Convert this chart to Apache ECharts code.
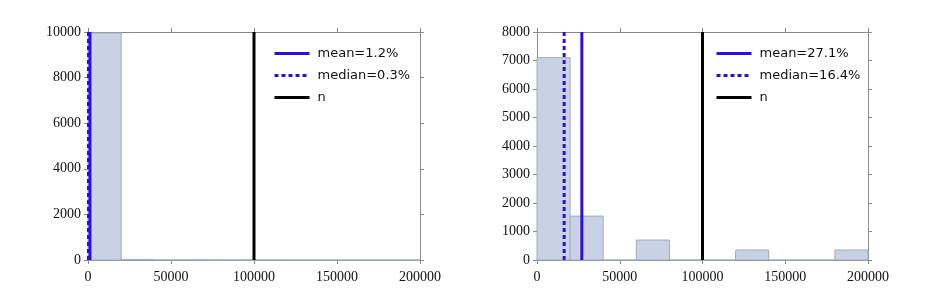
<!DOCTYPE html>
<html><head><meta charset="utf-8">
<script src="https://cdn.jsdelivr.net/npm/echarts@6/dist/echarts.min.js"></script>
<style>html,body{margin:0;padding:0;background:#fff}#c{width:930px;height:304px}</style>
</head><body><div id="c"></div>
<script>
// Histogram bin edges (shared)
const binEdges = [0,20000,40000,60000,80000,100000,120000,140000,160000,180000,200000];
// Left panel counts per bin
const leftCounts = [9960,25,8,4,2,1,0,0,0,0];
// Right panel counts per bin
const rightCounts = [7100,1540,0,700,0,0,350,0,0,350];
const leftMean = 1200, leftMedian = 300, leftN = 100000;
const rightMean = 27100, rightMedian = 16400, rightN = 100000;
const leftLabels = ['mean=1.2%','median=0.3%','n'];
const rightLabels = ['mean=27.1%','median=16.4%','n'];

const BLUE = '#2a10dc';
const FRAME = '#8a8a8a';
const serif = 'Liberation Serif';
const fmt = v => String(v);

function histData(counts){ return counts.map((c,i)=>[binEdges[i],binEdges[i+1],c]); }

function axes(idx, ymax, yint){
  const common = () => ({
    axisLine:{show:true,onZero:false,lineStyle:{color:FRAME,width:1}},
    axisTick:{show:true,inside:false,length:4,lineStyle:{color:FRAME}},
    splitLine:{show:false}
  });
  return {
    x:[
      Object.assign({type:'value',gridIndex:idx,min:0,max:200000,interval:50000,position:'bottom',
        axisLabel:{color:'#111',fontFamily:serif,fontSize:14,margin:10,formatter:fmt}},common()),
      Object.assign({type:'value',gridIndex:idx,min:0,max:200000,interval:50000,position:'top',
        axisLabel:{show:false}},common())
    ],
    y:[
      Object.assign({type:'value',gridIndex:idx,min:0,max:ymax,interval:yint,position:'left',
        axisLabel:{color:'#111',fontFamily:serif,fontSize:14,margin:7,formatter:fmt}},common()),
      Object.assign({type:'value',gridIndex:idx,min:0,max:ymax,interval:yint,position:'right',
        axisLabel:{show:false}},common())
    ]
  };
}
const a0 = axes(0,10000,2000), a1 = axes(1,8000,1000);

function hist(xi, yi, counts){
  return {type:'custom', xAxisIndex:xi, yAxisIndex:yi, data:histData(counts), z:1,
    renderItem:function(params, api){
      const p0 = api.coord([api.value(0), api.value(2)]);
      const p1 = api.coord([api.value(1), 0]);
      return {type:'rect', shape:{x:p0[0], y:p0[1], width:p1[0]-p0[0], height:p1[1]-p0[1]},
        style:{fill:'#c9d2e4', stroke:'#a3abbb', lineWidth:1}};
    }};
}
function vline(name, xi, yi, x, ymax, color, type){
  return {type:'line', name:name, xAxisIndex:xi, yAxisIndex:yi, data:[[x,0],[x,ymax]],
    symbol:'none', z:3, silent:true, animation:false,
    lineStyle:{color:color, width:3, type:type}, itemStyle:{color:color}};
}
function legend(left, labels){
  return {left:left, top:42, orient:'vertical', itemWidth:35, itemHeight:14, itemGap:9,
    data:labels.map(n=>({name:n})), selectedMode:false,
    itemStyle:{opacity:0, color:'transparent', borderWidth:0},
    lineStyle:{width:3},
    textStyle:{fontFamily:'DejaVu Sans',fontSize:13,color:'#111',padding:[0,0,0,3]}};
}

const chart = echarts.init(document.getElementById('c'));
chart.setOption({
  animation:false,
  grid:[{left:88,top:32,width:332,height:228},{left:537,top:32,width:331,height:228}],
  xAxis:[a0.x[0],a0.x[1],a1.x[0],a1.x[1]],
  yAxis:[a0.y[0],a0.y[1],a1.y[0],a1.y[1]],
  legend:[legend(268,leftLabels), legend(710,rightLabels)],
  series:[
    hist(0,0,leftCounts),
    vline(leftLabels[0],0,0,leftMean,10000,BLUE,'solid'),
    vline(leftLabels[1],0,0,leftMedian,10000,BLUE,[4,3]),
    vline(leftLabels[2],0,0,leftN,10000,'#000','solid'),
    hist(2,2,rightCounts),
    vline(rightLabels[0],2,2,rightMean,8000,BLUE,'solid'),
    vline(rightLabels[1],2,2,rightMedian,8000,BLUE,[4,3]),
    vline(rightLabels[2],2,2,rightN,8000,'#000','solid')
  ]
});
</script></body></html>
